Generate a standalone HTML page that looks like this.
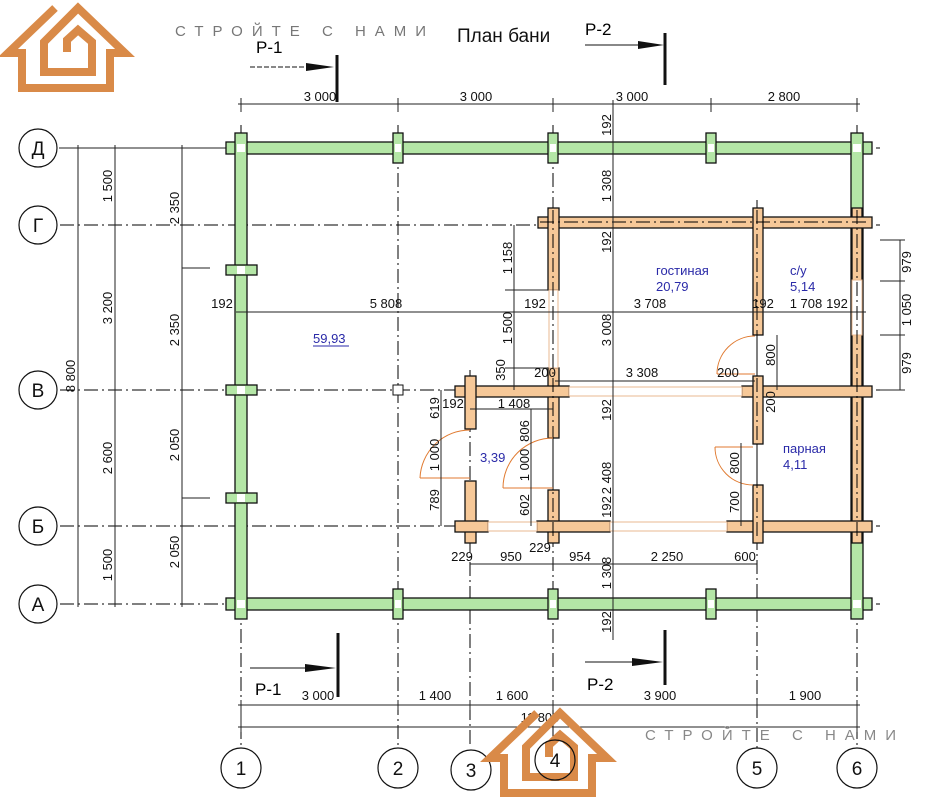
<!DOCTYPE html>
<html><head><meta charset="utf-8"><style>
html,body{margin:0;padding:0;background:#fff;}
svg{display:block;font-family:"Liberation Sans",sans-serif;}
.g{stroke:#000;stroke-width:1;stroke-dasharray:14 4 2 4;fill:none}
.d{stroke:#222;stroke-width:1;fill:none}
.w{fill:#b4e6a6;stroke:#111;stroke-width:1.3}
.o{fill:#f6c898;stroke:#111;stroke-width:1.3}
.win{fill:#fff;stroke:#e8b890;stroke-width:1}
.arc{fill:none;stroke:#e07a30;stroke-width:1}
.t{font-size:13px;fill:#111}
.b{font-size:13px;fill:#2a2aa8}
.c{fill:#fff;stroke:#111;stroke-width:1.2}
.ct{font-size:19px;fill:#111;text-anchor:middle}
.logo{fill:none;stroke:#d98a48;stroke-width:8;stroke-linejoin:miter}
</style></head><body>
<svg width="931" height="800" viewBox="0 0 931 800">
<g class="logo">
<path d="M55,8 L8,53 L22,53 L22,88 L110,88 L110,53 L125,53 L78,8 L44,42 L44,72 L92,72 L92,42 L78,30 L67,40 L67,52"/>
</g>
<text x="175" y="36" style="font-size:15px;letter-spacing:9px;fill:#777">СТРОЙТЕ С НАМИ</text>
<text x="457" y="42" style="font-size:19px;fill:#111">План бани</text>

<g class="g">
<line x1="60" y1="148" x2="880" y2="148"/>
<line x1="60" y1="225" x2="880" y2="225"/>
<line x1="60" y1="390" x2="880" y2="390"/>
<line x1="60" y1="526" x2="880" y2="526"/>
<line x1="60" y1="604" x2="880" y2="604"/>
<line x1="241" y1="125" x2="241" y2="748"/>
<line x1="398" y1="125" x2="398" y2="748"/>
<line x1="470" y1="370" x2="470" y2="748"/>
<line x1="553" y1="125" x2="553" y2="748"/>
<line x1="757" y1="200" x2="757" y2="748"/>
<line x1="857" y1="125" x2="857" y2="748"/>
</g>

<g class="d">
<line x1="238" y1="104" x2="860" y2="104"/>
<line x1="241" y1="98" x2="241" y2="112"/><line x1="398" y1="98" x2="398" y2="112"/><line x1="553" y1="98" x2="553" y2="112"/><line x1="711" y1="98" x2="711" y2="112"/><line x1="857" y1="98" x2="857" y2="112"/>
</g>
<g class="t" text-anchor="middle">
<text x="320" y="101">3 000</text><text x="476" y="101">3 000</text><text x="632" y="101">3 000</text><text x="784" y="101">2 800</text>
</g>

<g class="d">
<line x1="78" y1="145" x2="78" y2="607"/>
<line x1="115" y1="145" x2="115" y2="607"/>
<line x1="182" y1="145" x2="182" y2="607"/>
<line x1="182" y1="268" x2="210" y2="268"/><line x1="182" y1="498" x2="210" y2="498"/>
<line x1="59" y1="148" x2="240" y2="148"/>
</g>
<g class="t" text-anchor="middle">
<text transform="translate(75,376) rotate(-90)">8 800</text>
<text transform="translate(112,186) rotate(-90)">1 500</text>
<text transform="translate(112,308) rotate(-90)">3 200</text>
<text transform="translate(112,458) rotate(-90)">2 600</text>
<text transform="translate(112,565) rotate(-90)">1 500</text>
<text transform="translate(179,208) rotate(-90)">2 350</text>
<text transform="translate(179,330) rotate(-90)">2 350</text>
<text transform="translate(179,445) rotate(-90)">2 050</text>
<text transform="translate(179,552) rotate(-90)">2 050</text>
</g>

<g>
<circle class="c" cx="38" cy="148" r="19"/><text class="ct" x="38" y="155">Д</text>
<circle class="c" cx="38" cy="225" r="19"/><text class="ct" x="38" y="232">Г</text>
<circle class="c" cx="38" cy="390" r="19"/><text class="ct" x="38" y="397">В</text>
<circle class="c" cx="38" cy="526" r="19"/><text class="ct" x="38" y="533">Б</text>
<circle class="c" cx="38" cy="604" r="19"/><text class="ct" x="38" y="611">А</text>
</g>

<rect class="w" x="226" y="142" width="646" height="12"/>
<rect class="w" x="226" y="598" width="646" height="12"/>
<rect class="w" x="235" y="133" width="12" height="486"/>
<rect class="w" x="851" y="133" width="12" height="486"/>
<g class="w">
<rect x="393" y="133" width="10" height="30"/><rect x="548" y="133" width="10" height="30"/><rect x="706" y="133" width="10" height="30"/>
<rect x="393" y="589" width="10" height="30"/><rect x="548" y="589" width="10" height="30"/><rect x="706" y="589" width="10" height="30"/>
<rect x="226" y="265" width="31" height="10"/><rect x="226" y="385" width="31" height="10"/><rect x="226" y="493" width="31" height="10"/>
</g>
<g fill="#fff"><rect x="237" y="144" width="8" height="8"/><rect x="395" y="144" width="6" height="8"/><rect x="550" y="144" width="6" height="8"/><rect x="708" y="144" width="6" height="8"/><rect x="853" y="144" width="8" height="8"/>
<rect x="237" y="600" width="8" height="8"/><rect x="395" y="600" width="6" height="8"/><rect x="550" y="600" width="6" height="8"/><rect x="708" y="600" width="6" height="8"/><rect x="853" y="600" width="8" height="8"/>
<rect x="237" y="266" width="8" height="8"/><rect x="237" y="386" width="8" height="8"/><rect x="237" y="494" width="8" height="8"/></g>
<rect x="393" y="385" width="10" height="10" fill="#fff" stroke="#111"/>

<g class="o">
<rect x="852" y="208" width="10" height="335"/>
<rect x="538" y="217" width="334" height="11"/>
<rect x="548" y="208" width="11" height="82"/>
<rect x="548" y="368" width="11" height="70"/>
<rect x="548" y="490" width="11" height="53"/>
<rect x="455" y="386" width="114" height="11"/>
<rect x="465" y="376" width="11" height="53"/>
<rect x="465" y="481" width="11" height="62"/>
<rect x="455" y="521" width="33" height="11"/>
<rect x="537" y="521" width="73" height="11"/>
<rect x="727" y="521" width="145" height="11"/>
<rect x="742" y="386" width="130" height="11"/>
<rect x="753" y="208" width="10" height="127"/>
<rect x="753" y="376" width="10" height="68"/>
<rect x="753" y="485" width="10" height="58"/>
</g>
<g class="win">
<rect x="852" y="280" width="10" height="55"/>
<rect x="549" y="290" width="9" height="78"/>
<rect x="569" y="387" width="173" height="9"/>
<rect x="488" y="522" width="49" height="9"/>
<rect x="610" y="522" width="117" height="9"/>
</g>
<g class="g" stroke-width="0.8"><line x1="540" y1="222" x2="870" y2="222"/><line x1="757" y1="210" x2="757" y2="540"/><line x1="553" y1="210" x2="553" y2="540"/><line x1="857" y1="210" x2="857" y2="540"/></g>

<g class="arc">
<path d="M717,374 A38,38 0 0 1 755,336"/><line x1="717" y1="374" x2="755" y2="374"/>
<path d="M715,447 A38,38 0 0 0 753,485"/><line x1="715" y1="447" x2="753" y2="447"/>
<path d="M553,438 A50,50 0 0 0 503,488"/><line x1="503" y1="488" x2="553" y2="488"/>
<path d="M470,430 A50,50 0 0 0 420,478"/><line x1="420" y1="478" x2="470" y2="478"/>
</g>

<g class="d">
<line x1="236" y1="312" x2="866" y2="312"/>
<line x1="613" y1="100" x2="613" y2="640"/>
<line x1="514" y1="225" x2="514" y2="390"/>
<line x1="505" y1="290" x2="548" y2="290"/>
<line x1="505" y1="368" x2="548" y2="368"/>
<line x1="555" y1="381" x2="755" y2="381"/>
<line x1="470" y1="409" x2="553" y2="409"/>
<line x1="441" y1="390" x2="441" y2="526"/>
<line x1="531" y1="409" x2="531" y2="526"/>
<line x1="777" y1="335" x2="777" y2="390"/>
<line x1="741" y1="443" x2="741" y2="526"/>
<line x1="470" y1="564" x2="757" y2="564"/>
<line x1="900" y1="240" x2="900" y2="390"/>
<line x1="880" y1="240" x2="905" y2="240"/><line x1="880" y1="281" x2="905" y2="281"/><line x1="880" y1="335" x2="905" y2="335"/><line x1="880" y1="390" x2="905" y2="390"/>
</g>
<g class="t" text-anchor="middle">
<text x="222" y="308">192</text><text x="386" y="308">5 808</text><text x="535" y="308">192</text><text x="650" y="308">3 708</text><text x="763" y="308">192</text><text x="806" y="308">1 708</text><text x="837" y="308">192</text>
<text x="545" y="377">200</text><text x="642" y="377">3 308</text><text x="728" y="377">200</text>
<text x="453" y="408">192</text><text x="514" y="408">1 408</text>
<text x="462" y="561">229</text><text x="511" y="561">950</text><text x="540" y="552">229</text><text x="580" y="561">954</text><text x="667" y="561">2 250</text><text x="745" y="561">600</text>
<text transform="translate(611,125) rotate(-90)">192</text>
<text transform="translate(611,186) rotate(-90)">1 308</text>
<text transform="translate(611,242) rotate(-90)">192</text>
<text transform="translate(611,330) rotate(-90)">3 008</text>
<text transform="translate(611,410) rotate(-90)">192</text>
<text transform="translate(611,478) rotate(-90)">2 408</text>
<text transform="translate(611,507) rotate(-90)">192</text>
<text transform="translate(611,573) rotate(-90)">1 308</text>
<text transform="translate(611,622) rotate(-90)">192</text>
<text transform="translate(512,258) rotate(-90)">1 158</text>
<text transform="translate(512,328) rotate(-90)">1 500</text>
<text transform="translate(505,370) rotate(-90)">350</text>
<text transform="translate(439,408) rotate(-90)">619</text>
<text transform="translate(439,455) rotate(-90)">1 000</text>
<text transform="translate(439,500) rotate(-90)">789</text>
<text transform="translate(529,431) rotate(-90)">806</text>
<text transform="translate(529,465) rotate(-90)">1 000</text>
<text transform="translate(529,505) rotate(-90)">602</text>
<text transform="translate(775,355) rotate(-90)">800</text>
<text transform="translate(775,402) rotate(-90)">200</text>
<text transform="translate(739,463) rotate(-90)">800</text>
<text transform="translate(739,502) rotate(-90)">700</text>
<text transform="translate(911,262) rotate(-90)">979</text>
<text transform="translate(911,310) rotate(-90)">1 050</text>
<text transform="translate(911,363) rotate(-90)">979</text>
</g>

<g class="b">
<text x="656" y="275">гостиная</text><text x="656" y="291">20,79</text>
<text x="790" y="275">с/у</text><text x="790" y="291">5,14</text>
<text x="783" y="453">парная</text><text x="783" y="469">4,11</text>
<text x="480" y="462">3,39</text>
<text x="313" y="343">59,93</text>
</g>
<line x1="313" y1="346" x2="349" y2="346" stroke="#2a2aa8"/>

<g>
<text x="256" y="53" style="font-size:17px">Р-1</text>
<line x1="250" y1="67" x2="322" y2="67" stroke="#111" stroke-dasharray="5 2"/>
<polygon points="306,63 334,67 306,71" fill="#111"/>
<line x1="337" y1="55" x2="337" y2="102" stroke="#111" stroke-width="3"/>
<text x="585" y="35" style="font-size:17px">Р-2</text>
<line x1="585" y1="45" x2="645" y2="45" stroke="#111"/>
<polygon points="638,41 664,45 638,49" fill="#111"/>
<line x1="665" y1="33" x2="665" y2="85" stroke="#111" stroke-width="3"/>
<line x1="250" y1="668" x2="320" y2="668" stroke="#111"/>
<polygon points="305,664 336,668 305,672" fill="#111"/>
<line x1="338" y1="633" x2="338" y2="697" stroke="#111" stroke-width="3"/>
<text x="255" y="695" style="font-size:17px">Р-1</text>
<line x1="585" y1="662" x2="640" y2="662" stroke="#111"/>
<polygon points="632,658 663,662 632,666" fill="#111"/>
<line x1="665" y1="630" x2="665" y2="685" stroke="#111" stroke-width="3"/>
<text x="587" y="690" style="font-size:17px">Р-2</text>
</g>

<g class="d">
<line x1="238" y1="705" x2="860" y2="705"/>
<line x1="238" y1="727" x2="860" y2="727"/>
<line x1="241" y1="700" x2="241" y2="732"/><line x1="398" y1="700" x2="398" y2="710"/><line x1="470" y1="700" x2="470" y2="710"/><line x1="553" y1="700" x2="553" y2="710"/><line x1="757" y1="700" x2="757" y2="710"/><line x1="857" y1="700" x2="857" y2="732"/>
</g>
<g class="t" text-anchor="middle">
<text x="318" y="700">3 000</text><text x="435" y="700">1 400</text><text x="512" y="700">1 600</text><text x="660" y="700">3 900</text><text x="805" y="700">1 900</text>
<text x="540" y="722">11 800</text>
</g>
<text x="645" y="740" style="font-size:15px;letter-spacing:9px;fill:#888">СТРОЙТЕ С НАМИ</text>

<g>
<circle class="c" cx="241" cy="768" r="20"/><text class="ct" x="241" y="775">1</text>
<circle class="c" cx="398" cy="768" r="20"/><text class="ct" x="398" y="775">2</text>
<circle class="c" cx="471" cy="770" r="20"/><text class="ct" x="471" y="777">3</text>
<circle class="c" cx="757" cy="768" r="20"/><text class="ct" x="757" y="775" fill="#555">5</text>
<circle class="c" cx="857" cy="768" r="20" stroke="#444"/><text class="ct" x="857" y="775" fill="#777">6</text>
</g>
<g class="logo" transform="translate(482,705)">
<path d="M55,8 L8,53 L22,53 L22,88 L110,88 L110,53 L125,53 L78,8 L44,42 L44,72 L92,72 L92,42 L78,30 L67,40 L67,52"/>
</g>
<circle cx="555" cy="760" r="20" fill="none" stroke="#111" stroke-width="1.2"/><text class="ct" x="555" y="767">4</text>
</svg>
</body></html>
